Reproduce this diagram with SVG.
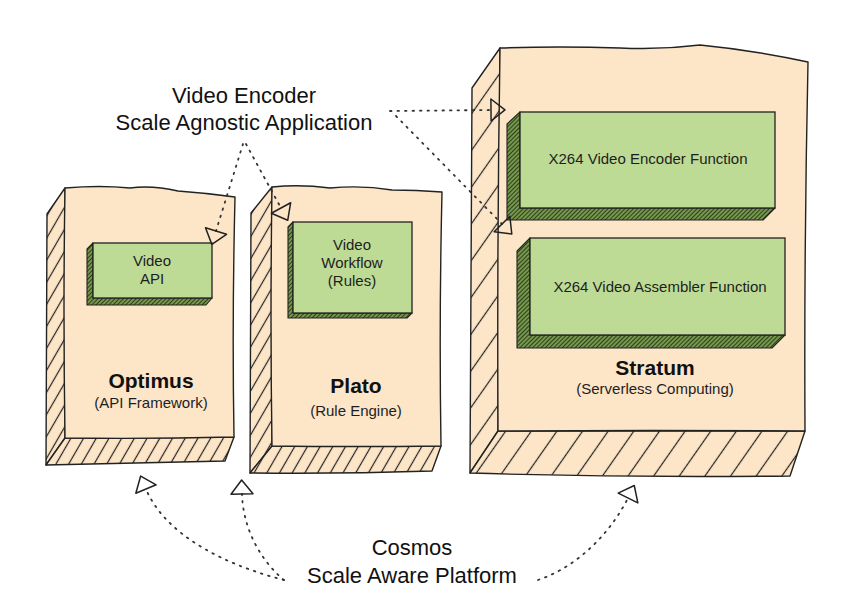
<svg xmlns="http://www.w3.org/2000/svg" width="851" height="615" viewBox="0 0 851 615">
<defs>
<style>
.face{fill:#fde5c8;stroke:#222;stroke-width:1.4;stroke-linejoin:round}
.hs{fill:url(#hs);stroke:#222;stroke-width:1.4;stroke-linejoin:round}
.hl{fill:url(#hl);stroke:#222;stroke-width:1.4;stroke-linejoin:round}
.gface{fill:#bddb95;stroke:#222;stroke-width:1.3}
.gside{fill:url(#gh);stroke:#222;stroke-width:1.1;stroke-linejoin:round}
.lbl{font-family:"Liberation Sans",Arial,sans-serif;font-size:15px;fill:#1e1e1e;text-anchor:middle}
.ttl{font-family:"Liberation Sans",Arial,sans-serif;font-size:21px;font-weight:bold;fill:#111;text-anchor:middle}
.big{font-family:"Liberation Sans",Arial,sans-serif;font-size:22px;fill:#111;text-anchor:middle}
.conn{fill:none;stroke:#333;stroke-width:1.8;stroke-dasharray:1.5 6;stroke-linecap:round}
</style>
<pattern id="hs" patternUnits="userSpaceOnUse" width="11" height="11" patternTransform="rotate(30)">
<rect width="11" height="11" fill="#fde5c8"/>
<line x1="5.5" y1="0" x2="5.5" y2="11" stroke="#222" stroke-width="1.2"/>
</pattern>
<pattern id="hl" patternUnits="userSpaceOnUse" width="21" height="21" patternTransform="rotate(35)">
<rect width="21" height="21" fill="#fde5c8"/>
<line x1="10.5" y1="0" x2="10.5" y2="21" stroke="#222" stroke-width="1.2"/>
</pattern>
<pattern id="gh" patternUnits="userSpaceOnUse" width="3" height="3" patternTransform="rotate(45)">
<rect width="3" height="3" fill="#7f9f55"/>
<line x1="1.5" y1="0" x2="1.5" y2="3" stroke="#2b4216" stroke-width="1.2"/>
</pattern>
<marker id="tri" markerUnits="userSpaceOnUse" markerWidth="20" markerHeight="26" viewBox="0 0 20 26" refX="2" refY="13" orient="auto">
<path d="M2,2 L16,13 L2,24 Z" fill="none" stroke="#222" stroke-width="1.5" stroke-linejoin="round"/>
</marker>
</defs>

<g id="optimus">
<path class="hs" d="M65,188 L47,214 L46,465 L65,438 Z"/>
<path class="hs" d="M65,438 L46,465 Q140,463 225,461 L234,437 Z"/>
<path class="face" d="M65,188 Q100,185 130,188 Q152,185 178,191 Q206,193 235,197 Q232,320 234,437 Q150,439 65,438 Q63,310 65,188 Z"/>
<path class="gside" d="M93,243 L87,249 L87,305 L206,305 L212,298 L93,298 Z"/>
<rect class="gface" x="93" y="243" width="119" height="55"/>
<text class="lbl" x="152" y="266">Video</text>
<text class="lbl" x="152" y="284">API</text>
<text class="ttl" x="151" y="388">Optimus</text>
<text class="lbl" x="151" y="408">(API Framework)</text>
</g>

<g id="plato">
<path class="hs" d="M272,187 L251,213 L250,473 L272,446 Z"/>
<path class="hs" d="M272,446 L250,473 Q340,474 432,471 L441,446 Z"/>
<path class="face" d="M272,187 Q300,184 330,188 Q362,185 392,190 Q416,190 442,192 Q439,320 441,446 Q355,447 272,446 Q270,320 272,187 Z"/>
<path class="gside" d="M293,222 L288,227 L288,318 L407,318 L412,313 L293,313 Z"/>
<rect class="gface" x="293" y="222" width="119" height="91"/>
<text class="lbl" x="352" y="250">Video</text>
<text class="lbl" x="352" y="268">Workflow</text>
<text class="lbl" x="352" y="286">(Rules)</text>
<text class="ttl" x="356" y="393">Plato</text>
<text class="lbl" x="356" y="416">(Rule Engine)</text>
</g>

<g id="stratum">
<path class="hl" d="M500,48 L472,88 L470,473 L498,431 Z"/>
<path class="hl" d="M498,431 L470,473 Q630,478 790,476 L805,431 Z"/>
<path class="face" d="M500,48 Q560,46 620,48 Q660,50 700,45 Q752,50 808,62 Q804,250 805,431 Q650,430 498,431 Q497,240 500,48 Z"/>
<path class="gside" d="M520,112 L507,124 L507,220 L763,220 L775,208 L520,208 Z"/>
<rect class="gface" x="520" y="112" width="255" height="96"/>
<text class="lbl" x="648" y="164">X264 Video Encoder Function</text>
<path class="gside" d="M530,238 L517,251 L517,348 L772,348 L785,335 L530,335 Z"/>
<rect class="gface" x="530" y="238" width="255" height="97"/>
<text class="lbl" x="660" y="292">X264 Video Assembler Function</text>
<text class="ttl" x="655" y="375">Stratum</text>
<text class="lbl" x="655" y="394">(Serverless Computing)</text>
</g>

<g id="video-encoder-app">
<text class="big" x="244" y="103">Video Encoder</text>
<text class="big" x="244" y="130">Scale Agnostic Application</text>
</g>

<g id="cosmos">
<text class="big" x="412" y="555">Cosmos</text>
<text class="big" x="412" y="583">Scale Aware Platform</text>
</g>

<g id="connectors">
<path class="conn" d="M243,144 L216,231" marker-end="url(#tri)"/>
<path class="conn" d="M246,144 L281,208" marker-end="url(#tri)"/>
<path class="conn" d="M390,111 L491,110" marker-end="url(#tri)"/>
<path class="conn" d="M396,116 L502,224" marker-end="url(#tri)"/>
<path class="conn" d="M284,580 C225,565 165,535 146,489" marker-end="url(#tri)"/>
<path class="conn" d="M284,580 C262,562 243,530 242,494" marker-end="url(#tri)"/>
<path class="conn" d="M538,580 C580,566 612,530 628,498" marker-end="url(#tri)"/>
</g>
</svg>
